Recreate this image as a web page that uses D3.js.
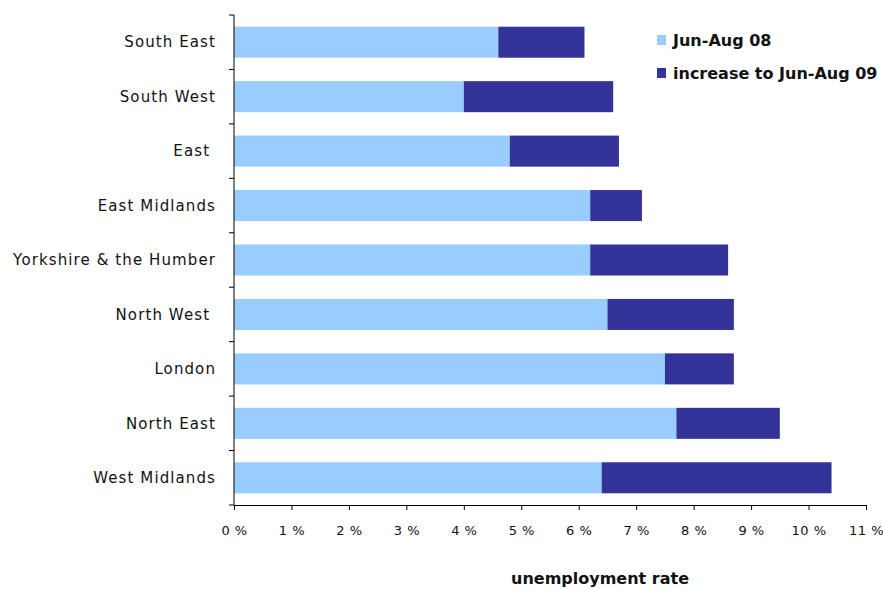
<!DOCTYPE html>
<html>
<head>
<meta charset="utf-8">
<script src="https://cdn.jsdelivr.net/npm/d3@7"></script>
<style>
body { margin: 0; background: #fff; }
text { font-family: "DejaVu Sans", Verdana, sans-serif; fill: #111; }
</style>
</head>
<body>
<svg id="chart" width="883" height="589"></svg>
<script>
var regions = ["South East", "South West", "East ", "East Midlands", "Yorkshire & the Humber",
               "North West ", "London", "North East", "West Midlands"];
var jun08 = [4.6, 4.0, 4.8, 6.2, 6.2, 6.5, 7.5, 7.7, 6.4];
var increase09 = [1.5, 2.6, 1.9, 0.9, 2.4, 2.2, 1.2, 1.8, 4.0];
var xTicks = [0, 1, 2, 3, 4, 5, 6, 7, 8, 9, 10, 11];
var seriesNames = ["Jun-Aug 08", "increase to Jun-Aug 09"];
var colors = ["#99ccff", "#333399"];

var svg = d3.select("#chart");
var plotLeft = 234, plotRight = 866, plotTop = 15, plotBottom = 505;

var x = d3.scaleLinear().domain([0, 11]).range([plotLeft, plotRight]);
var y = d3.scaleBand().domain(regions).range([plotTop, plotBottom]).paddingInner(0.43).paddingOuter(0.215);

// stacked data
var rows = regions.map(function(r, i) {
    return { region: r, a: jun08[i], b: increase09[i] };
});

var g = svg.append("g");
g.selectAll("rect.base")
    .data(rows)
    .enter()
    .append("rect")
    .attr("x", x(0))
    .attr("y", function(d) { return y(d.region); })
    .attr("width", function(d) { return x(d.a) - x(0); })
    .attr("height", y.bandwidth())
    .style("fill", colors[0]);

g.selectAll("rect.inc")
    .data(rows)
    .enter()
    .append("rect")
    .attr("x", function(d) { return x(d.a); })
    .attr("y", function(d) { return y(d.region); })
    .attr("width", function(d) { return x(d.a + d.b) - x(d.a); })
    .attr("height", y.bandwidth())
    .style("fill", colors[1]);

// x axis
var xAxis = svg.append("g")
    .attr("transform", "translate(0," + plotBottom + ")")
    .call(d3.axisBottom(x).tickValues(xTicks).tickSize(5).tickSizeOuter(0)
        .tickFormat(function(d) { return d + " %"; }));
xAxis.select(".domain").attr("stroke", "#000");
xAxis.selectAll(".tick line").attr("stroke", "#000");
xAxis.selectAll("text").attr("dy", "1.7em").style("font-size", "13px").style("letter-spacing", "0.5px");

// y axis: line plus ticks at band boundaries
var yLine = svg.append("g");
yLine.append("line")
    .attr("x1", plotLeft).attr("x2", plotLeft)
    .attr("y1", plotTop).attr("y2", plotBottom)
    .attr("stroke", "#000");
var bounds = d3.range(regions.length + 1).map(function(i) {
    return plotTop + i * (plotBottom - plotTop) / regions.length;
});
yLine.selectAll("line.tk")
    .data(bounds)
    .enter()
    .append("line")
    .attr("x1", plotLeft - 5).attr("x2", plotLeft)
    .attr("y1", function(d) { return d; })
    .attr("y2", function(d) { return d; })
    .attr("stroke", "#000");

svg.selectAll("text.cat")
    .data(regions)
    .enter()
    .append("text")
    .attr("x", plotLeft - 18)
    .attr("y", function(d) { return y(d) + y.bandwidth() / 2; })
    .attr("dy", "0.35em")
    .attr("text-anchor", "end")
    .style("font-size", "15px")
    .style("letter-spacing", "1.1px")
    .style("white-space", "pre")
    .text(function(d) { return d; });

// axis title
svg.append("text")
    .attr("x", 600)
    .attr("y", 584)
    .attr("text-anchor", "middle")
    .style("font-size", "16px")
    .style("font-weight", "bold")
    .text("unemployment rate");

// legend
var legend = svg.selectAll("g.legend")
    .data(seriesNames)
    .enter()
    .append("g")
    .attr("transform", function(d, i) { return "translate(657," + (40 + i * 33) + ")"; });
legend.append("rect")
    .attr("x", 0).attr("y", -5)
    .attr("width", 9).attr("height", 10)
    .style("fill", function(d, i) { return colors[i]; });
legend.append("text")
    .attr("x", 16)
    .attr("dy", "0.35em")
    .style("font-size", "16px")
    .style("font-weight", "bold")
    .text(function(d) { return d; });
</script>
</body>
</html>
